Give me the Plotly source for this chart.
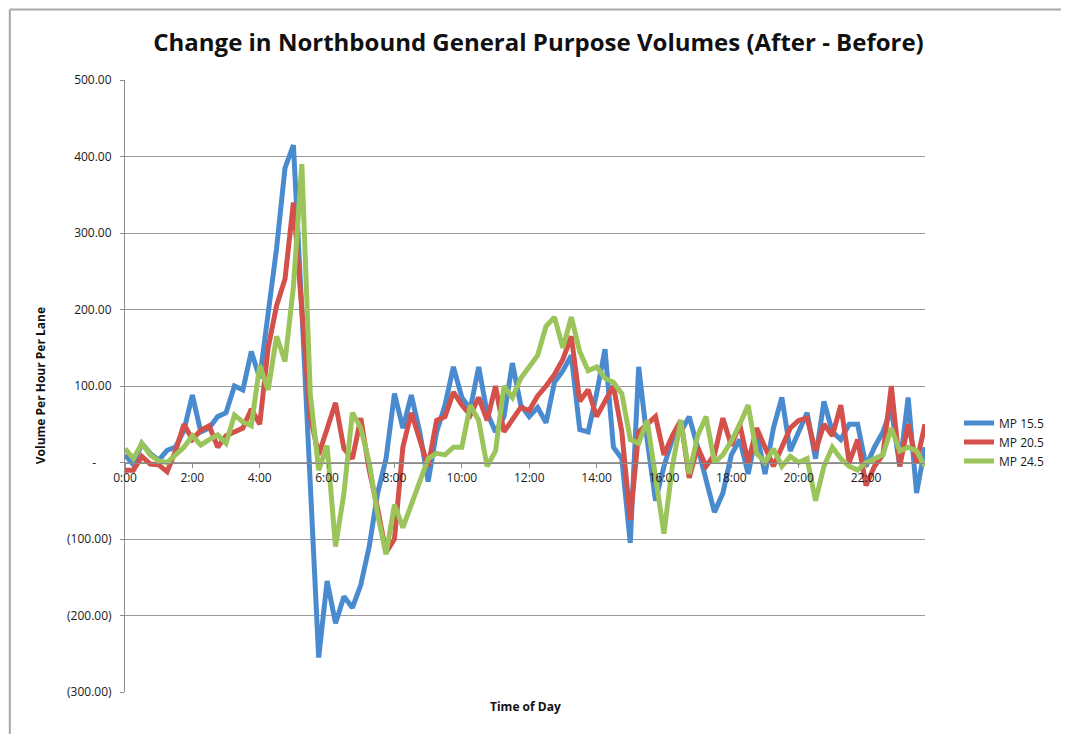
import plotly.graph_objects as go

# 15-minute readings, 0:00 .. 23:45
mp_15_5 = [
    10, -3, 25, 12,   3, 16, 20, 42,   88, 40, 45, 60,   65, 100, 95, 145,
    110, 200, 280, 385,   415, 200, -40, -255,   -155, -210, -175, -190,   -160, -110, -40, 5,
    90, 45, 88, 40,   -25, 40, 75, 125,   85, 70, 125, 65,   40, 60, 130, 75,
    60, 72, 52, 105,   120, 140, 43, 40,   90, 148, 20, 5,   -105, 125, 30, -50,
    -5, 30, 40, 60,   20, -20, -65, -40,   10, 30, -15, 40,   -15, 45, 85, 15,
    40, 65, 5, 80,   40, 30, 50, 50,   -5, 20, 40, 70,   -5, 85, -40, 20,
]
mp_20_5 = [
    -10, -10, 8, -2,   -3, -12, 15, 50,   30, 42, 48, 20,   35, 40, 45, 70,
    50, 150, 205, 240,   340, 200, 60, 10,   45, 78, 18, 5,   58, -10, -60, -118,
    -100, 20, 65, 30,   -5, 55, 60, 92,   75, 62, 85, 55,   100, 40, 55, 72,
    68, 87, 100, 115,   135, 165, 80, 95,   60, 80, 100, 40,   -75, 40, 50, 60,
    10, 35, 55, -20,   20, -5, 10, 58,   22, 50, 0, 45,   20, -5, 20, 45,
    55, 58, 15, 50,   35, 75, 0, 30,   -30, -5, 10, 100,   -5, 50, 0, 50,
]
mp_24_5 = [
    18, 5, 25, 10,   2, 0, 10, 20,   35, 23, 30, 36,   25, 62, 53, 48,
    127, 95, 165, 132,   230, 390, 90, -10,   22, -110, -40, 65,   45, 0, -68, -120,
    -55, -85, -55, -25,   5, 12, 10, 20,   20, 75, 55, -5,   15, 100, 85, 110,
    125, 140, 178, 190,   150, 190, 145, 120,   125, 110, 105, 90,   30, 25, 55, -20,
    -93, -5, 55, -15,   35, 60, 0, 10,   28, 50, 75, 12,   0, 18, -5, 8,
    0, 5, -50, -5,   20, 5, -5, -10,   0, 5, 10, 45,   15, 20, 15, -5,
]
hours = [i * 0.25 for i in range(len(mp_15_5))]

series_names = ["MP 15.5", "MP 20.5", "MP 24.5"]
series_colors = ["#4a8bd0", "#d4504a", "#9bc45a"]

x_tickvals = list(range(0, 24, 2))
x_ticktext = [f"{h}:00" for h in x_tickvals]
y_tickvals = [-300, -200, -100, 0, 100, 200, 300, 400, 500]
y_ticktext = ["(300.00)", "(200.00)", "(100.00)", "-" + "\u00a0" * 5,
              "100.00", "200.00", "300.00", "400.00", "500.00"]

font = "Open Sans, Noto Sans, sans-serif"

fig = go.Figure()
for name, vals, color in zip(series_names, [mp_15_5, mp_20_5, mp_24_5], series_colors):
    fig.add_trace(go.Scatter(x=hours, y=vals, mode="lines", name=name,
                             line=dict(color=color, width=5)))

# the page adds an 8px body margin, so the figure is sized to fill the rest
fig.update_layout(
    width=1061, height=726,
    margin=dict(l=117, r=144, t=72, b=42),
    paper_bgcolor="white", plot_bgcolor="white",
    font=dict(family=font, size=12, color="#1a1a1a"),
    title=dict(text="<b>Change in Northbound General Purpose Volumes (After - Before)</b>",
               x=0.5, xanchor="center", y=0.952, yanchor="middle",
               font=dict(size=24, color="#111")),
    legend=dict(x=1.0425, xanchor="left", y=0.4085, yanchor="middle",
                font=dict(size=12), tracegroupgap=0, itemwidth=30,
                bgcolor="rgba(0,0,0,0)"),
    showlegend=True,
)

fig.update_xaxes(
    range=[0, 23.75], tickvals=x_tickvals, ticktext=x_ticktext,
    anchor="free", position=0.375, showline=True, linecolor="#8c8c8c", linewidth=1,
    ticks="outside", ticklen=4, tickcolor="#8c8c8c",
    showgrid=False, zeroline=False, tickfont=dict(size=12),
)
fig.update_yaxes(
    range=[-300, 500], tickvals=y_tickvals, ticktext=y_ticktext,
    showline=True, linecolor="#8c8c8c", linewidth=1,
    ticks="outside", ticklen=4, tickcolor="#8c8c8c", ticklabelstandoff=6,
    showgrid=True, gridcolor="#9a9a9a", gridwidth=1, zeroline=False,
    tickfont=dict(size=12), domain=[0, 1],
)

fig.add_annotation(text="<b>Volume Per Hour Per Lane</b>", xref="paper", yref="paper",
                   x=-0.106, y=0.5, xanchor="center", yanchor="middle", textangle=-90,
                   showarrow=False, font=dict(size=12, color="#111"))
fig.add_annotation(text="<b>Time of Day</b>", xref="paper", yref="paper",
                   x=0.5, y=-0.023, xanchor="center", yanchor="middle",
                   showarrow=False, font=dict(size=12, color="#111"))

# outer frame (top and left edges only)
fig.add_shape(type="line", xref="paper", yref="paper", x0=-0.144, x1=1.2, y0=1.115, y1=1.115,
              line=dict(color="#a8a8a8", width=2))
fig.add_shape(type="line", xref="paper", yref="paper", x0=-0.144, x1=-0.144, y0=1.115, y1=-0.08,
              line=dict(color="#a8a8a8", width=2))

fig.write_html("out.html")
